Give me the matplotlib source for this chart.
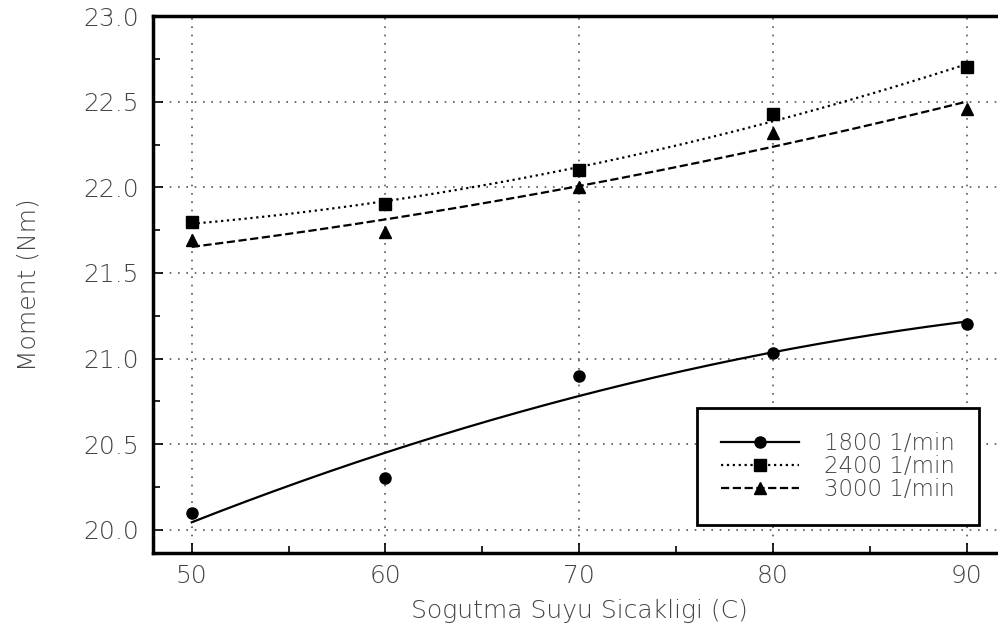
import numpy as np
import matplotlib
matplotlib.use("Agg")
import matplotlib.pyplot as plt
from matplotlib.ticker import MultipleLocator

temps = [50, 60, 70, 80, 90]
m1800 = [20.10, 20.30, 20.90, 21.03, 21.20]
m2400 = [21.80, 21.90, 22.10, 22.43, 22.70]
m3000 = [21.69, 21.74, 22.00, 22.32, 22.46]
labels = ["1800 1/min", "2400 1/min", "3000 1/min"]

plt.rcParams["font.family"] = ["DejaVu Sans"]
plt.rcParams["font.weight"] = 200
plt.rcParams["axes.labelweight"] = 200

fig = plt.figure(figsize=(9.98, 6.43), dpi=100)
ax = fig.add_axes([0.1533, 0.140, 0.854, 0.835])

tc = "#444444"
xs = np.linspace(50, 90, 200)
styles = [("-", "o"), (":", "s"), ("--", "^")]
for ys, (ls, mk), lab in zip([m1800, m2400, m3000], styles, labels):
    c = np.polyfit(temps, ys, 2)
    ax.plot(xs, np.polyval(c, xs), color="black", ls=ls, lw=1.6)
    ax.plot(temps, ys, ls="none", marker=mk, color="black", ms=8)
    ax.plot([], [], color="black", ls=ls, marker=mk, ms=8, lw=1.6, label=lab)

ax.set_xlim(48, 92)
ax.set_ylim(19.865, 23.0)
ax.xaxis.set_major_locator(MultipleLocator(10))
ax.xaxis.set_minor_locator(MultipleLocator(5))
ax.yaxis.set_major_locator(MultipleLocator(0.5))
ax.yaxis.set_minor_locator(MultipleLocator(0.25))
ax.yaxis.set_major_formatter(matplotlib.ticker.FormatStrFormatter("%.1f"))
ax.grid(True, which="major", ls=(0, (1, 4)), color="#555555", lw=1.2)
ax.tick_params(which="both", direction="in", colors="black", labelcolor=tc, labelsize=18)
ax.tick_params(which="major", length=7, width=1.2)
ax.tick_params(which="minor", length=5, width=1.2)
ax.tick_params(axis="x", pad=8)
ax.tick_params(axis="y", pad=10)
ax.spines["right"].set_visible(False)
for s in ax.spines.values():
    s.set_linewidth(2.5)
ax.set_xlabel("Sogutma Suyu Sicakligi (C)", color=tc, fontsize=18, labelpad=8)
ax.set_ylabel("Moment (Nm)", color=tc, fontsize=18, labelpad=31)

leg = ax.legend(loc="lower right", bbox_to_anchor=(0.9695, 0.052), fancybox=False,
                edgecolor="black", framealpha=1, fontsize=16.5, handlelength=3.4,
                borderpad=1.05, labelspacing=0.0, borderaxespad=0, handletextpad=1.1)
leg.get_frame().set_linewidth(2)
for t in leg.get_texts():
    t.set_color(tc)

fig.savefig("out.png", dpi=100)
